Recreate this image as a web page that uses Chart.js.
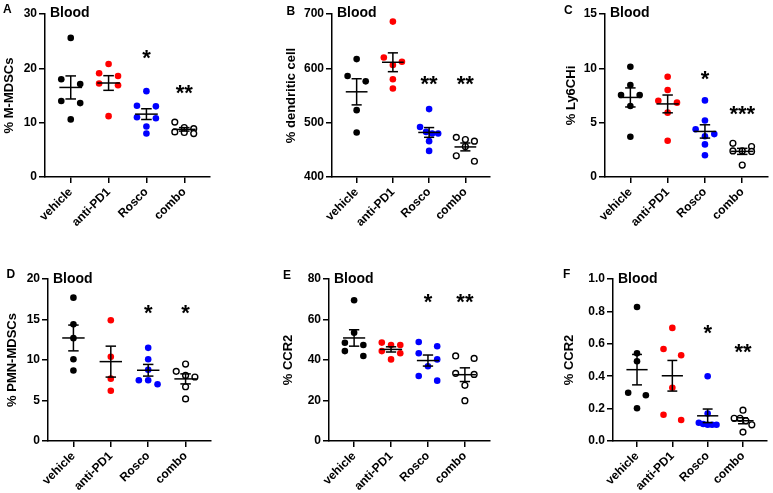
<!DOCTYPE html>
<html>
<head>
<meta charset="utf-8">
<script src="https://cdn.jsdelivr.net/npm/chart.js@4.4.1/dist/chart.umd.min.js"></script>
<style>
  body { margin: 0; background: #fff; width: 773px; height: 493px; position: relative; overflow: hidden; font-family: "Liberation Sans", Arial, sans-serif; }
  canvas { position: absolute; }
  .tag { position: absolute; font-weight: bold; font-size: 12px; line-height: 12px; color: #000; }
</style>
</head>
<body>
<script>
"use strict";

const groups = ["vehicle", "anti-PD1", "Rosco", "combo"];

// one inner list per group
const mMdscs = [
  [25.6, 18.0, 17.1, 14.0, 13.6, 10.6],
  [20.8, 19.1, 18.6, 17.2, 16.9, 11.2],
  [15.8, 13.1, 13.0, 11.0, 10.8, 9.3, 8.0],
  [10.1, 9.1, 8.9, 8.3, 8.2, 8.0],
];
const dendritic = [
  [617, 586, 576, 523, 482],
  [686, 620, 612, 606, 580, 563],
  [525, 492, 483, 480, 480, 466, 448],
  [473, 469, 466, 456, 439, 429],
];
const ly6chi = [
  [10.15, 8.46, 7.54, 7.54, 6.53, 3.71],
  [9.23, 8.0, 7.02, 6.84, 5.92, 3.34],
  [7.05, 5.2, 4.4, 3.95, 3.75, 3.0, 2.0],
  [3.1, 2.8, 2.4, 2.4, 2.35, 1.1],
];
const pmnMdscs = [
  [17.7, 14.4, 12.7, 10.1, 8.7],
  [14.9, 10.4, 7.7, 6.2],
  [11.5, 10.1, 8.8, 7.5, 7.5, 7.0],
  [9.5, 8.6, 8.1, 7.9, 6.7, 5.2],
];
const ccr2Pct = [
  [69.5, 53.5, 48.5, 47.4, 44.4, 42.0],
  [48.6, 47.4, 47.4, 44.4, 43.3, 40.3],
  [48.9, 46.8, 43.3, 40.3, 36.9, 32.1, 29.8],
  [42.0, 40.8, 33.4, 32.9, 27.5, 19.9],
];
const ccr2Small = [
  [0.827, 0.541, 0.492, 0.298, 0.282, 0.202],
  [0.698, 0.568, 0.529, 0.329, 0.162, 0.13],
  [0.4, 0.17, 0.113, 0.105, 0.1, 0.1, 0.1],
  [0.19, 0.14, 0.14, 0.125, 0.1, 0.055],
];

// significance marks and the value level they sit at
const starsA = ["", "", "*", "**"], starsAY = [0, 0, 22.8, 16.4];
const starsB = ["", "", "**", "**"], starsBY = [0, 0, 580, 580];
const starsC = ["", "", "*", "***"], starsCY = [0, 0, 9.5, 6.3];
const starsD = ["", "", "*", "*"], starsDY = [0, 0, 16.4, 16.4];
const starsE = ["", "", "*", "**"], starsEY = [0, 0, 71.3, 71.3];
const starsF = ["", "", "*", "**"], starsFY = [0, 0, 0.696, 0.582];

const panels = [
  { tag: "A", values: mMdscs, stars: starsA, starY: starsAY, title: "% M-MDSCs", min: 0, max: 30, step: 10, dec: 0 },
  { tag: "B", values: dendritic, stars: starsB, starY: starsBY, title: "% dendritic cell", min: 400, max: 700, step: 100, dec: 0 },
  { tag: "C", values: ly6chi, stars: starsC, starY: starsCY, title: "% Ly6CHi", min: 0, max: 15, step: 5, dec: 0 },
  { tag: "D", values: pmnMdscs, stars: starsD, starY: starsDY, title: "% PMN-MDSCs", min: 0, max: 20, step: 5, dec: 0 },
  { tag: "E", values: ccr2Pct, stars: starsE, starY: starsEY, title: "% CCR2", min: 0, max: 80, step: 20, dec: 0 },
  { tag: "F", values: ccr2Small, stars: starsF, starY: starsFY, title: "% CCR2", min: 0, max: 1, step: 0.2, dec: 1 },
];

// page layout of each panel (pixels)
const boxes = [
  { left: 0, top: 0, w: 216, h: 245, axisX: 45, right: 210, areaTop: 14, areaBottom: 177, tagX: 3, tagY: 3.4, bloodDy: 2.5 },
  { left: 282, top: 0, w: 214, h: 245, axisX: 332, right: 490, areaTop: 14, areaBottom: 177, tagX: 286.5, tagY: 5, bloodDy: 2.5 },
  { left: 562, top: 0, w: 211, h: 245, axisX: 605, right: 770, areaTop: 14, areaBottom: 177, tagX: 564, tagY: 4.4, bloodDy: 2.5 },
  { left: 3, top: 250, w: 215, h: 243, axisX: 48, right: 211, areaTop: 279, areaBottom: 441, tagX: 6.5, tagY: 268.4, bloodDy: 4 },
  { left: 279, top: 250, w: 217, h: 243, axisX: 329, right: 490, areaTop: 279, areaBottom: 441, tagX: 283, tagY: 269.4, bloodDy: 4 },
  { left: 560, top: 250, w: 213, h: 243, axisX: 613, right: 767, areaTop: 279, areaBottom: 441, tagX: 563, tagY: 268.4, bloodDy: 4 },
];

const fills = ["#000000", "#ff0000", "#0000ff", "#ffffff"];
const edges = ["#000000", "#ff0000", "#0000ff", "#000000"];

Chart.defaults.font.family = '"Liberation Sans", Arial, sans-serif';
Chart.defaults.font.weight = "bold";
Chart.defaults.color = "#000";

// prism-like scatter: dots close in value share a row and spread sideways
function spread(vals, pxPerUnit) {
  const order = vals.map((v, k) => k).sort((a, b) => vals[b] - vals[a]);
  const off = vals.map(() => 0);
  let row = [];
  const flush = () => {
    row.forEach((k, j) => {
      off[k] = row.length === 1 ? 0 : -0.25 + (0.5 * j) / (row.length - 1);
    });
    row = [];
  };
  order.forEach((k) => {
    if (row.length && (vals[row[0]] - vals[k]) * pxPerUnit >= 7) flush();
    row.push(k);
  });
  flush();
  return off;
}

function meanSem(vals) {
  const n = vals.length;
  const m = vals.reduce((a, b) => a + b, 0) / n;
  const sd = Math.sqrt(vals.reduce((a, b) => a + (b - m) ** 2, 0) / (n - 1));
  return [m, sd / Math.sqrt(n)];
}

const overlay = {
  id: "overlay",
  afterDatasetsDraw(chart, args, opts) {
    const { ctx, chartArea } = chart;
    const x = chart.scales.x, y = chart.scales.y;
    ctx.save();
    ctx.strokeStyle = "#000";
    ctx.lineWidth = 1.5;
    opts.values.forEach((vals, i) => {
      const [m, s] = meanSem(vals);
      const yc = y.getPixelForValue(m), yt = y.getPixelForValue(m + s), yb = y.getPixelForValue(m - s);
      const seg = (a, b, p, q) => { ctx.beginPath(); ctx.moveTo(a, p); ctx.lineTo(b, q); ctx.stroke(); };
      seg(x.getPixelForValue(i - 0.3), x.getPixelForValue(i + 0.3), yc, yc);
      seg(x.getPixelForValue(i), x.getPixelForValue(i), yt, yb);
      seg(x.getPixelForValue(i - 0.14), x.getPixelForValue(i + 0.14), yt, yt);
      seg(x.getPixelForValue(i - 0.14), x.getPixelForValue(i + 0.14), yb, yb);
    });
    ctx.fillStyle = "#000";
    ctx.font = 'bold 22px "Liberation Sans", Arial, sans-serif';
    ctx.textAlign = "center";
    ctx.textBaseline = "alphabetic";
    opts.stars.forEach((st, i) => {
      if (!st) return;
      ctx.fillText(st, x.getPixelForValue(i), y.getPixelForValue(opts.starY[i]) + 12);
    });
    ctx.font = 'bold 14px "Liberation Sans", Arial, sans-serif';
    ctx.textAlign = "left";
    ctx.fillText("Blood", chartArea.left + 5, chartArea.top + opts.bloodDy);
    ctx.restore();
  },
};

panels.forEach((p, n) => {
  const b = boxes[n];
  const canvas = document.createElement("canvas");
  canvas.width = b.w;
  canvas.height = b.h;
  canvas.style.left = b.left + "px";
  canvas.style.top = b.top + "px";
  document.body.appendChild(canvas);

  const tag = document.createElement("div");
  tag.className = "tag";
  tag.textContent = p.tag;
  tag.style.left = b.tagX + "px";
  tag.style.top = b.tagY + "px";
  document.body.appendChild(tag);

  const pxPerUnit = (b.areaBottom - b.areaTop) / (p.max - p.min);
  const yW = b.axisX - b.left;
  const xH = b.h - (b.areaBottom - b.top);
  const axisLine = { drawOnChartArea: false, tickLength: 6, color: "#000", lineWidth: 1.5 };

  new Chart(canvas, {
    type: "scatter",
    data: {
      datasets: p.values.map((vals, i) => {
        const off = spread(vals, pxPerUnit);
        return {
          label: groups[i],
          data: vals.map((v, k) => ({ x: i + off[k], y: v })),
          pointRadius: i === 3 ? 2.9 : 3.3,
          pointBackgroundColor: fills[i],
          pointBorderColor: edges[i],
          pointBorderWidth: i === 3 ? 1.4 : 0,
        };
      }),
    },
    options: {
      responsive: false,
      animation: false,
      devicePixelRatio: 1,
      layout: { padding: { top: b.areaTop - b.top, right: b.w - (b.right - b.left), left: 0, bottom: 0 } },
      plugins: {
        legend: { display: false },
        tooltip: { enabled: false },
        overlay: { values: p.values, stars: p.stars, starY: p.starY, bloodDy: b.bloodDy },
      },
      scales: {
        x: {
          type: "linear",
          min: -0.68,
          max: 3.68,
          afterBuildTicks: (s) => { s.ticks = groups.map((g, i) => ({ value: i })); },
          afterFit: (s) => { s.height = xH; },
          ticks: {
            autoSkip: false,
            minRotation: 45,
            maxRotation: 45,
            padding: 2,
            font: { size: 12, weight: "bold" },
            callback: (v) => groups[v],
          },
          grid: axisLine,
          border: { color: "#000", width: 1.5 },
        },
        y: {
          min: p.min,
          max: p.max,
          afterFit: (s) => { s.width = yW; },
          ticks: {
            stepSize: p.step,
            padding: 2,
            font: { size: 12, weight: "bold" },
            callback: (v) => Number(v).toFixed(p.dec),
          },
          title: {
            display: true,
            text: p.title,
            font: { size: 13, weight: "bold" },
            padding: { top: 2, bottom: 0 },
          },
          grid: axisLine,
          border: { color: "#000", width: 1.5 },
        },
      },
    },
    plugins: [overlay],
  });
});
</script>
</body>
</html>
